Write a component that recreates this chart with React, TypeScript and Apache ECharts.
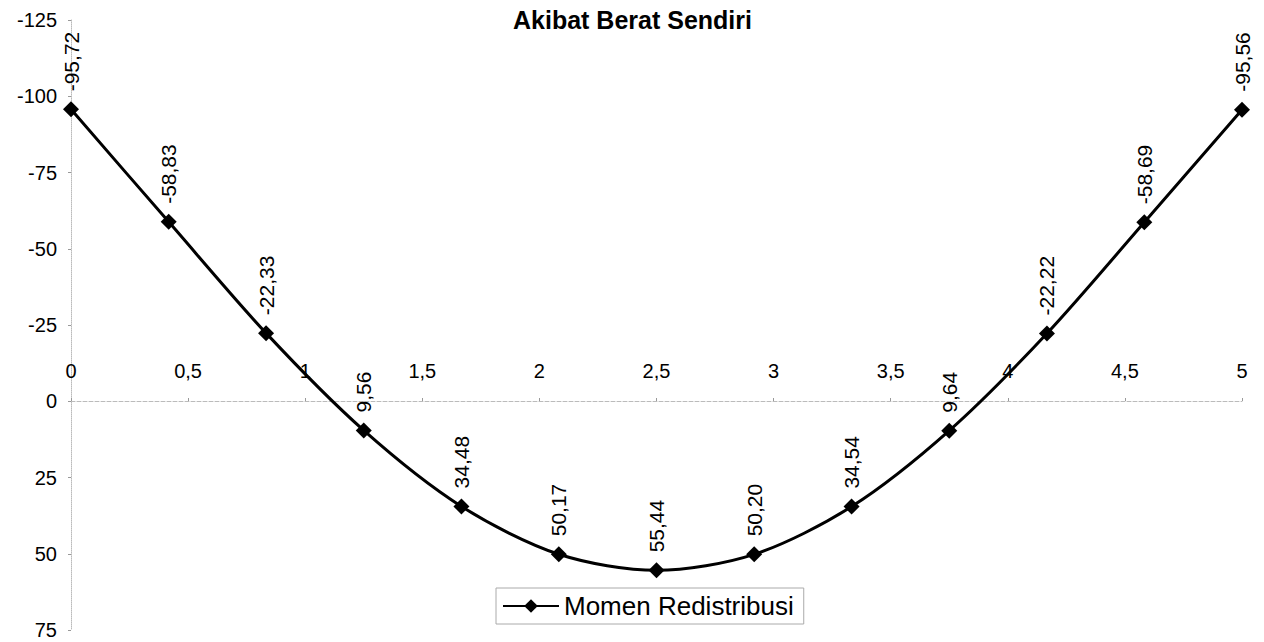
import React, { useEffect, useRef } from "react";
import * as echarts from "echarts";

const TITLE = "Akibat Berat Sendiri";
const SERIES_NAME = "Momen Redistribusi";
const xPositions = [0, 0.417, 0.833, 1.25, 1.667, 2.083, 2.5, 2.917, 3.333, 3.75, 4.167, 4.583, 5];
const moments = [-95.72, -58.83, -22.33, 9.56, 34.48, 50.17, 55.44, 50.2, 34.54, 9.64, -22.22, -58.69, -95.56];
const yMin = -125;
const yMax = 75;
const yStep = 25;
const xMin = 0;
const xMax = 5;
const xStep = 0.5;

const FONT = "'Liberation Sans', Arial, sans-serif";

export default function App() {
  const ref = useRef<HTMLDivElement>(null);
  useEffect(() => {
    if (!ref.current) return;
    const chart = echarts.init(ref.current, undefined, { renderer: "svg" });
    const data = xPositions.map((x, i) => [x, moments[i]]);
    const gridTop = 20;
    const gridBottom = 12;
    const plotH = 642 - gridTop - gridBottom;
    const zeroOffset = Math.round(((0 - yMin) / (yMax - yMin)) * plotH);
    chart.setOption({
      animation: false,
      backgroundColor: "#ffffff",
      textStyle: { fontFamily: FONT },
      title: {
        text: TITLE,
        left: 508,
        top: 2,
        textStyle: { fontFamily: FONT, fontWeight: "bold", fontSize: 25, color: "#000" },
      },
      legend: {
        data: [SERIES_NAME],
        left: 496,
        top: 588,
        padding: [5, 10, 5, 6],
        borderColor: "#aaa",
        borderWidth: 1,
        backgroundColor: "#fff",
        itemWidth: 56,
        itemHeight: 17,
        textStyle: { fontFamily: FONT, fontSize: 26, color: "#000" },
      },
      grid: { left: 71, right: 22, top: gridTop, bottom: gridBottom, containLabel: false },
      xAxis: {
        type: "value",
        position: "top",
        offset: -zeroOffset,
        min: xMin,
        max: xMax,
        interval: xStep,
        splitLine: { show: false },
        axisLine: { onZero: false, lineStyle: { color: "#bbb", type: "dashed", width: 1 } },
        axisTick: { show: true, length: 3, lineStyle: { color: "#999" } },
        axisLabel: {
          margin: 20,
          fontSize: 20,
          color: "#000",
          fontFamily: FONT,
          formatter: (v: number) => String(v).replace(".", ","),
        },
      },
      yAxis: {
        type: "value",
        inverse: true,
        min: yMin,
        max: yMax,
        interval: yStep,
        splitLine: { show: false },
        axisLine: { show: true, onZero: false, lineStyle: { color: "#bbb", type: "dotted", width: 1 } },
        axisTick: { show: true, length: 3, lineStyle: { color: "#999" } },
        axisLabel: { fontSize: 20, color: "#000", margin: 14, fontFamily: FONT },
      },
      series: [
        {
          name: SERIES_NAME,
          type: "line",
          data,
          smooth: 0.3,
          symbol: "diamond",
          symbolSize: 16,
          lineStyle: { color: "#000", width: 3 },
          itemStyle: { color: "#000" },
          label: {
            show: true,
            position: "top",
            rotate: 90,
            align: "left",
            verticalAlign: "middle",
            distance: 10,
            fontSize: 21,
            color: "#000",
            fontFamily: FONT,
            formatter: (p: any) => p.value[1].toFixed(2).replace(".", ","),
          },
        },
      ],
    });
    return () => chart.dispose();
  }, []);
  return (
    <div
      ref={ref}
      style={{ position: "fixed", left: 0, top: 0, width: 1264, height: 642 }}
    />
  );
}
